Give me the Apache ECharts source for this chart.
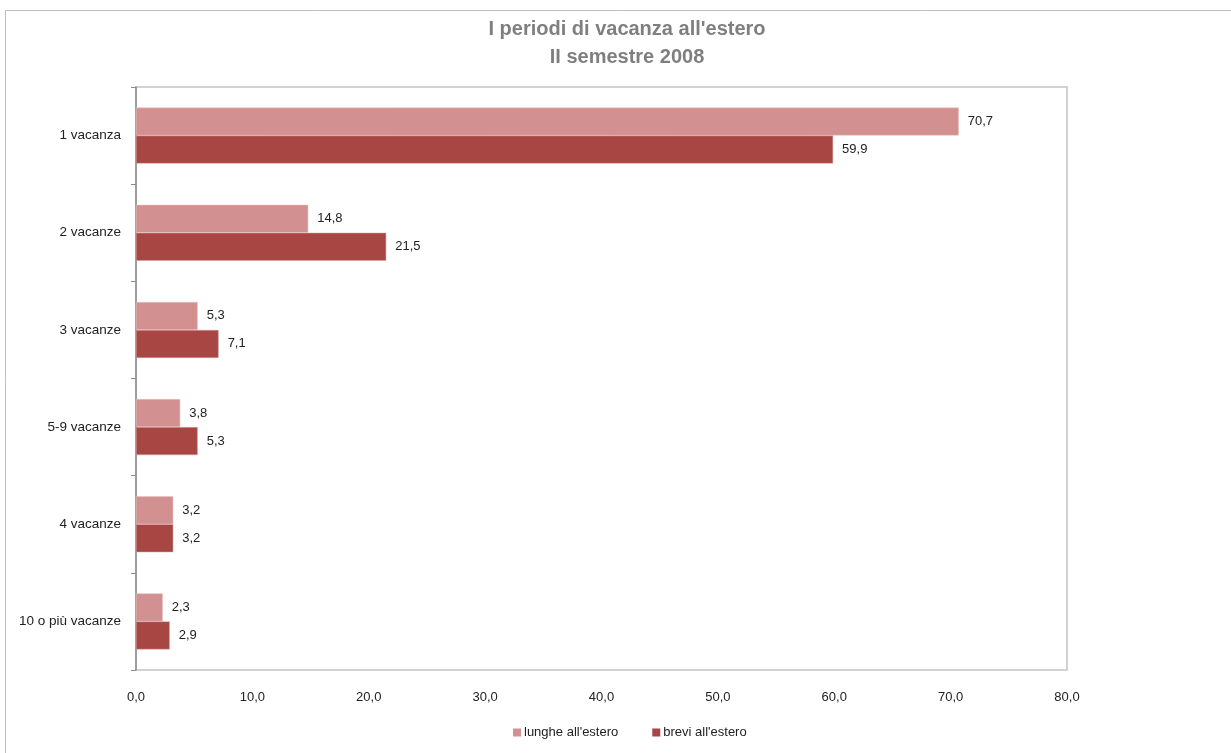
<!DOCTYPE html>
<html><head><meta charset="utf-8">
<script src="https://cdn.jsdelivr.net/npm/echarts@6/dist/echarts.min.js"></script>
<style>html,body{margin:0;padding:0;background:#fff}#c{width:1231px;height:753px}</style>
</head><body><div id="c"></div>
<script>
const categories = ["1 vacanza","2 vacanze","3 vacanze","5-9 vacanze","4 vacanze","10 o più vacanze"];
const lunghe = [70.7,14.8,5.3,3.8,3.2,2.3];
const brevi = [59.9,21.5,7.1,5.3,3.2,2.9];
const seriesNames = ["lunghe all'estero","brevi all'estero"];
const titleLines = ["I periodi di vacanza all'estero","II semestre 2008"];

const fmt = v => Number(v).toFixed(1).replace('.', ',');
const chart = echarts.init(document.getElementById('c'));
const font = "'Liberation Sans', Arial, sans-serif";
chart.setOption({
  animation:false,
  graphic:[{type:'rect',shape:{x:5.5,y:10.5,width:1300,height:800},style:{fill:'none',stroke:'#bdbdbd',lineWidth:1}}],
  title:{text:titleLines.join('\n'),left:622,top:10,textAlign:'center',
    textStyle:{fontFamily:"'Liberation Sans Narrow','Liberation Sans',sans-serif",fontSize:20,fontWeight:'bold',color:'#7f7f7f',lineHeight:28}},
  legend:{bottom:9,left:508,itemWidth:8,itemHeight:8,itemGap:34,icon:'rect',
    itemStyle:{borderWidth:0},
    textStyle:{fontFamily:font,fontSize:13,color:'#222',padding:[0,0,0,-2]},data:seriesNames},
  grid:{left:136,right:164,top:87,bottom:83,show:true,borderColor:'#c4c4c4',borderWidth:1.5},
  xAxis:{type:'value',min:0,max:80,interval:10,
    axisLine:{show:false},axisTick:{show:false},splitLine:{show:false},
    axisLabel:{formatter:fmt,fontFamily:font,fontSize:13,color:'#222',margin:21}},
  yAxis:{type:'category',data:categories,inverse:true,
    axisLine:{show:true,lineStyle:{color:'#8c8c8c',width:1.5}},
    axisTick:{show:true,length:5,lineStyle:{color:'#8c8c8c'}},
    axisLabel:{fontFamily:font,fontSize:13.5,color:'#222',margin:15}},
  series:[
    {name:seriesNames[0],type:'bar',data:lunghe,barWidth:28,barGap:'0%',
     itemStyle:{color:'#D29190',borderColor:'#e8c4c3',borderWidth:0.5},
     label:{show:true,position:'right',distance:9,formatter:p=>fmt(p.value),fontFamily:font,fontSize:13,color:'#222'}},
    {name:seriesNames[1],type:'bar',data:brevi,barWidth:28,
     itemStyle:{color:'#A84644',borderColor:'#d8a5a4',borderWidth:0.5},
     label:{show:true,position:'right',distance:9,formatter:p=>fmt(p.value),fontFamily:font,fontSize:13,color:'#222'}}
  ]
});
</script></body></html>
